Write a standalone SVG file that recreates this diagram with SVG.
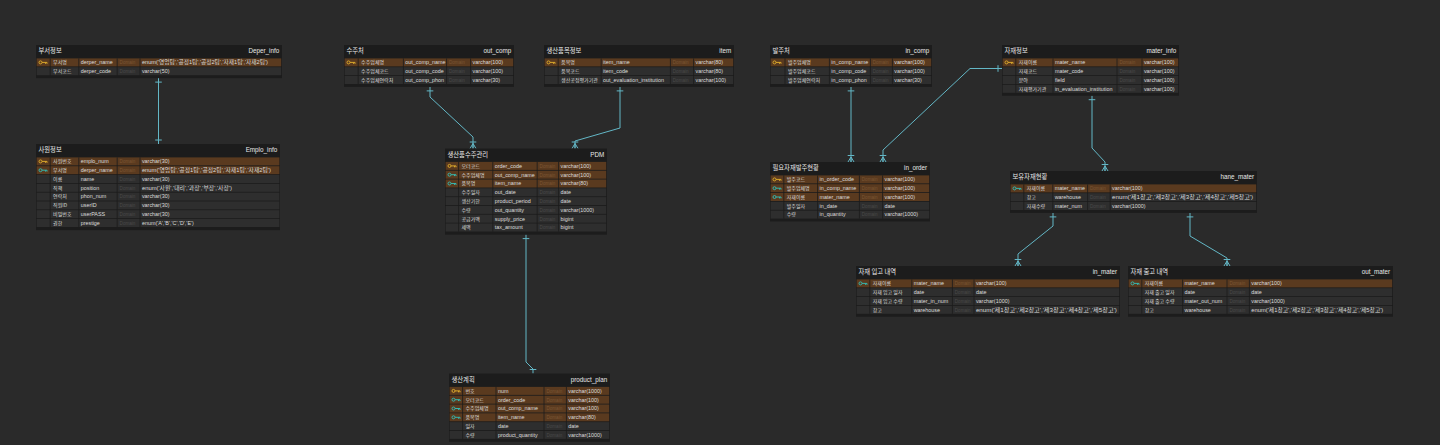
<svg xmlns="http://www.w3.org/2000/svg" xmlns:xlink="http://www.w3.org/1999/xlink" width="1440" height="445" viewBox="0 0 1440 445">
<style>
.tb{fill:#1c1c1c}
.c{fill:#2e2e2e}
.p{fill:#5a3a1f}
.sp{stroke:#1c1c1c;stroke-width:0.8;fill:none}
.ht{font-family:"Noto Sans CJK KR",sans-serif;font-size:6.3px;fill:#e8e8e8}
.he{font-family:"Liberation Sans",sans-serif;font-size:6.3px;fill:#e8e8e8;text-anchor:end}
.k{font-family:"Noto Sans CJK KR",sans-serif;font-size:5px;fill:#dddddd}
.e{font-family:"Liberation Sans",sans-serif;font-size:5.4px;fill:#dddddd}
.t{font-family:"Liberation Sans","Noto Sans CJK KR",sans-serif;font-size:5.4px;fill:#dddddd}
.d{font-family:"Liberation Sans",sans-serif;font-size:4.6px;fill:#4a4a4a}
.dp{font-family:"Liberation Sans",sans-serif;font-size:4.6px;fill:#7a5634}
.ky{fill:none;stroke:#d9a72b;stroke-width:1}
.kf{fill:none;stroke:#36b5ad;stroke-width:1}
.cn path{fill:none;stroke:#63b7c6;stroke-width:1}
</style>
<defs>
<g id="key"><circle cx="0" cy="0" r="1.5"/><path d="M1.5,0H6.5M5,0V1.4M6.5,0V1.4"/></g>
<marker id="one" markerUnits="userSpaceOnUse" markerWidth="12" markerHeight="12" viewBox="-10 -6 12 12" refX="0" refY="0" orient="auto-start-reverse"><path d="M-4,-3.3V3.3" stroke="#63b7c6" stroke-width="1" fill="none"/></marker>
<marker id="many" markerUnits="userSpaceOnUse" markerWidth="12" markerHeight="12" viewBox="-10 -6 12 12" refX="0" refY="0" orient="auto"><path d="M-5,0L0,-3M-5,0L0,0M-5,0L0,3M-6.5,-3.3V3.3" stroke="#63b7c6" stroke-width="1" fill="none"/></marker>
</defs>
<rect width="1440" height="445" fill="#2a2a2a"/>

<g class="cn" id="connectors">
<path d="M158.5,78.1V144" marker-start="url(#one)" marker-end="url(#one)"/>
<path d="M430,86.9V97L473,137V148.5" marker-start="url(#one)" marker-end="url(#many)"/>
<path d="M620,86.9V128L575,141V148.5" marker-start="url(#one)" marker-end="url(#many)"/>
<path d="M526,234.6V362L533,369V373.5" marker-start="url(#one)" marker-end="url(#one)"/>
<path d="M851,86.9V162" marker-start="url(#one)" marker-end="url(#many)"/>
<path d="M1002,68.5H970L883,150V162" marker-start="url(#one)" marker-end="url(#many)"/>
<path d="M1092,95.7V148L1105,162V171" marker-start="url(#one)" marker-end="url(#many)"/>
<path d="M1053,212.9V226L1018,254V266" marker-start="url(#one)" marker-end="url(#many)"/>
<path d="M1190,212.9V236L1227,258V266" marker-start="url(#one)" marker-end="url(#many)"/>
</g>

<g id="deper_info" transform="translate(36,45)">
<rect class="tb" width="246" height="33.1"/>
<text class="ht" x="2.5" y="8">부서정보</text>
<text class="he" x="243.2" y="8">Deper_info</text>
<rect class="p" x="0.6" y="13.4" width="244.6" height="8"/>
<rect class="c" x="0.6" y="22.2" width="244.6" height="8"/>
<path class="sp" d="M14.2,13.4v16.8M42.8,13.4v16.8M81.2,13.4v16.8M104,13.4v16.8"/>
<use xlink:href="#key" x="4.5" y="17.4" class="ky"/>
<text class="k" x="17.1" y="19.2">부서명</text><text class="e" x="44.7" y="19.2">derper_name</text><text class="dp" x="83.6" y="19.2">Domain</text><text class="t" x="105.9" y="19.2" textLength="126" lengthAdjust="spacingAndGlyphs">enum('영업팀','공정1팀','공정2팀','자재1팀','자재2팀')</text>
<text class="k" x="17.1" y="28">부서코드</text><text class="e" x="44.7" y="28">derper_code</text><text class="d" x="83.6" y="28">Domain</text><text class="t" x="105.9" y="28">varchar(50)</text>
</g>

<g id="emplo_info" transform="translate(36,144)">
<rect class="tb" width="244" height="86.1"/>
<text class="ht" x="2.5" y="8">사원정보</text>
<text class="he" x="241.2" y="8">Emplo_info</text>
<rect class="p" x="0.6" y="13.4" width="242.8" height="8"/>
<rect class="p" x="0.6" y="22.2" width="242.8" height="8"/>
<rect class="c" x="0.6" y="31" width="242.8" height="8"/>
<rect class="c" x="0.6" y="39.8" width="242.8" height="8"/>
<rect class="c" x="0.6" y="48.6" width="242.8" height="8"/>
<rect class="c" x="0.6" y="57.4" width="242.8" height="8"/>
<rect class="c" x="0.6" y="66.2" width="242.8" height="8"/>
<rect class="c" x="0.6" y="75" width="242.8" height="8"/>
<path class="sp" d="M14.2,13.4v69.6M42.8,13.4v69.6M81.2,13.4v69.6M104,13.4v69.6"/>
<use xlink:href="#key" x="4.5" y="17.4" class="ky"/>
<use xlink:href="#key" x="4.5" y="26.2" class="kf"/>
<text class="k" x="17.1" y="19.2">사원번호</text><text class="e" x="44.7" y="19.2">emplo_num</text><text class="dp" x="83.6" y="19.2">Domain</text><text class="t" x="105.9" y="19.2">varchar(30)</text>
<text class="k" x="17.1" y="28">부서명</text><text class="e" x="44.7" y="28">derper_name</text><text class="dp" x="83.6" y="28">Domain</text><text class="t" x="105.9" y="28" textLength="129" lengthAdjust="spacingAndGlyphs">enum('영업팀','공정1팀','공정2팀','자재1팀','자재2팀')</text>
<text class="k" x="17.1" y="36.8">이름</text><text class="e" x="44.7" y="36.8">name</text><text class="d" x="83.6" y="36.8">Domain</text><text class="t" x="105.9" y="36.8">varchar(30)</text>
<text class="k" x="17.1" y="45.6">직책</text><text class="e" x="44.7" y="45.6">position</text><text class="d" x="83.6" y="45.6">Domain</text><text class="t" x="105.9" y="45.6" textLength="90" lengthAdjust="spacingAndGlyphs">enum('사원','대리','과장','부장','사장')</text>
<text class="k" x="17.1" y="54.4">연락처</text><text class="e" x="44.7" y="54.4">phon_num</text><text class="d" x="83.6" y="54.4">Domain</text><text class="t" x="105.9" y="54.4">varchar(30)</text>
<text class="k" x="17.1" y="63.2">직원ID</text><text class="e" x="44.7" y="63.2">userID</text><text class="d" x="83.6" y="63.2">Domain</text><text class="t" x="105.9" y="63.2">varchar(30)</text>
<text class="k" x="17.1" y="72">비밀번호</text><text class="e" x="44.7" y="72">userPASS</text><text class="d" x="83.6" y="72">Domain</text><text class="t" x="105.9" y="72">varchar(30)</text>
<text class="k" x="17.1" y="80.8">권한</text><text class="e" x="44.7" y="80.8">prestige</text><text class="d" x="83.6" y="80.8">Domain</text><text class="t" x="105.9" y="80.8">enum('A','B','C','D','E')</text>
</g>

<g id="out_comp" transform="translate(344,45)">
<rect class="tb" width="170" height="41.9"/>
<text class="ht" x="2.5" y="8">수주처</text>
<text class="he" x="167.2" y="8">out_comp</text>
<rect class="p" x="0.6" y="13.4" width="168.6" height="8"/>
<rect class="c" x="0.6" y="22.2" width="168.6" height="8"/>
<rect class="c" x="0.6" y="31" width="168.6" height="8"/>
<path class="sp" d="M14.2,13.4v25.6M59.4,13.4v25.6M102.6,13.4v25.6M126.6,13.4v25.6"/>
<use xlink:href="#key" x="4.5" y="17.4" class="ky"/>
<text class="k" x="17.1" y="19.2">수주업체명</text><text class="e" x="61.3" y="19.2">out_comp_name</text><text class="dp" x="105" y="19.2">Domain</text><text class="t" x="128.5" y="19.2">varchar(100)</text>
<text class="k" x="17.1" y="28">수주업체코드</text><text class="e" x="61.3" y="28">out_comp_code</text><text class="d" x="105" y="28">Domain</text><text class="t" x="128.5" y="28">varchar(100)</text>
<text class="k" x="17.1" y="36.8">수주업체연락처</text><text class="e" x="61.3" y="36.8">out_comp_phon</text><text class="d" x="105" y="36.8">Domain</text><text class="t" x="128.5" y="36.8">varchar(30)</text>
</g>

<g id="item" transform="translate(544,45)">
<rect class="tb" width="190" height="41.9"/>
<text class="ht" x="2.5" y="8">생산품목정보</text>
<text class="he" x="187.2" y="8">item</text>
<rect class="p" x="0.6" y="13.4" width="188.6" height="8"/>
<rect class="c" x="0.6" y="22.2" width="188.6" height="8"/>
<rect class="c" x="0.6" y="31" width="188.6" height="8"/>
<path class="sp" d="M14.2,13.4v25.6M57.2,13.4v25.6M126.4,13.4v25.6M149.6,13.4v25.6"/>
<use xlink:href="#key" x="4.5" y="17.4" class="ky"/>
<text class="k" x="17.1" y="19.2">품목명</text><text class="e" x="59.1" y="19.2">item_name</text><text class="dp" x="128.8" y="19.2">Domain</text><text class="t" x="151.5" y="19.2">varchar(80)</text>
<text class="k" x="17.1" y="28">품목코드</text><text class="e" x="59.1" y="28">item_code</text><text class="d" x="128.8" y="28">Domain</text><text class="t" x="151.5" y="28">varchar(80)</text>
<text class="k" x="17.1" y="36.8">생산공정평가기관</text><text class="e" x="59.1" y="36.8">out_evaluation_institution</text><text class="d" x="128.8" y="36.8">Domain</text><text class="t" x="151.5" y="36.8">varchar(100)</text>
</g>

<g id="pdm" transform="translate(445,148.5)">
<rect class="tb" width="162" height="86.1"/>
<text class="ht" x="2.5" y="8">생산품수주관리</text>
<text class="he" x="159.2" y="8">PDM</text>
<rect class="p" x="0.6" y="13.4" width="160.6" height="8"/>
<rect class="p" x="0.6" y="22.2" width="160.6" height="8"/>
<rect class="p" x="0.6" y="31" width="160.6" height="8"/>
<rect class="c" x="0.6" y="39.8" width="160.6" height="8"/>
<rect class="c" x="0.6" y="48.6" width="160.6" height="8"/>
<rect class="c" x="0.6" y="57.4" width="160.6" height="8"/>
<rect class="c" x="0.6" y="66.2" width="160.6" height="8"/>
<rect class="c" x="0.6" y="75" width="160.6" height="8"/>
<path class="sp" d="M13.6,13.4v69.6M47.8,13.4v69.6M92.2,13.4v69.6M113.6,13.4v69.6"/>
<use xlink:href="#key" x="4.5" y="17.4" class="ky"/>
<use xlink:href="#key" x="4.5" y="26.2" class="kf"/>
<use xlink:href="#key" x="4.5" y="35" class="kf"/>
<text class="k" x="16.5" y="19.2">오더코드</text><text class="e" x="49.7" y="19.2">order_code</text><text class="dp" x="94.6" y="19.2">Domain</text><text class="t" x="115.5" y="19.2">varchar(100)</text>
<text class="k" x="16.5" y="28">수주업체명</text><text class="e" x="49.7" y="28">out_comp_name</text><text class="dp" x="94.6" y="28">Domain</text><text class="t" x="115.5" y="28">varchar(100)</text>
<text class="k" x="16.5" y="36.8">품목명</text><text class="e" x="49.7" y="36.8">item_name</text><text class="dp" x="94.6" y="36.8">Domain</text><text class="t" x="115.5" y="36.8">varchar(80)</text>
<text class="k" x="16.5" y="45.6">수주일자</text><text class="e" x="49.7" y="45.6">out_date</text><text class="d" x="94.6" y="45.6">Domain</text><text class="t" x="115.5" y="45.6">date</text>
<text class="k" x="16.5" y="54.4">생산기한</text><text class="e" x="49.7" y="54.4">product_period</text><text class="d" x="94.6" y="54.4">Domain</text><text class="t" x="115.5" y="54.4">date</text>
<text class="k" x="16.5" y="63.2">수량</text><text class="e" x="49.7" y="63.2">out_quantity</text><text class="d" x="94.6" y="63.2">Domain</text><text class="t" x="115.5" y="63.2">varchar(1000)</text>
<text class="k" x="16.5" y="72">공급가액</text><text class="e" x="49.7" y="72">supply_price</text><text class="d" x="94.6" y="72">Domain</text><text class="t" x="115.5" y="72">bigint</text>
<text class="k" x="16.5" y="80.8">세액</text><text class="e" x="49.7" y="80.8">tax_amount</text><text class="d" x="94.6" y="80.8">Domain</text><text class="t" x="115.5" y="80.8">bigint</text>
</g>

<g id="product_plan" transform="translate(449,373.5)">
<rect class="tb" width="161" height="68.3"/>
<text class="ht" x="2.5" y="8">생산계획</text>
<text class="he" x="158.2" y="8">product_plan</text>
<rect class="p" x="0.6" y="13.4" width="159.6" height="8"/>
<rect class="p" x="0.6" y="22.2" width="159.6" height="8"/>
<rect class="p" x="0.6" y="31" width="159.6" height="8"/>
<rect class="p" x="0.6" y="39.8" width="159.6" height="8"/>
<rect class="c" x="0.6" y="48.6" width="159.6" height="8"/>
<rect class="c" x="0.6" y="57.4" width="159.6" height="8"/>
<path class="sp" d="M13.6,13.4v52M47,13.4v52M95,13.4v52M117.4,13.4v52"/>
<use xlink:href="#key" x="4.5" y="17.4" class="ky"/>
<use xlink:href="#key" x="4.5" y="26.2" class="kf"/>
<use xlink:href="#key" x="4.5" y="35" class="kf"/>
<use xlink:href="#key" x="4.5" y="43.8" class="kf"/>
<text class="k" x="16.5" y="19.2">번호</text><text class="e" x="48.9" y="19.2">num</text><text class="dp" x="97.4" y="19.2">Domain</text><text class="t" x="119.3" y="19.2">varchar(1000)</text>
<text class="k" x="16.5" y="28">오더코드</text><text class="e" x="48.9" y="28">order_code</text><text class="dp" x="97.4" y="28">Domain</text><text class="t" x="119.3" y="28">varchar(100)</text>
<text class="k" x="16.5" y="36.8">수주업체명</text><text class="e" x="48.9" y="36.8">out_comp_name</text><text class="dp" x="97.4" y="36.8">Domain</text><text class="t" x="119.3" y="36.8">varchar(100)</text>
<text class="k" x="16.5" y="45.6">품목명</text><text class="e" x="48.9" y="45.6">item_name</text><text class="dp" x="97.4" y="45.6">Domain</text><text class="t" x="119.3" y="45.6">varchar(80)</text>
<text class="k" x="16.5" y="54.4">일자</text><text class="e" x="48.9" y="54.4">date</text><text class="d" x="97.4" y="54.4">Domain</text><text class="t" x="119.3" y="54.4">date</text>
<text class="k" x="16.5" y="63.2">수량</text><text class="e" x="48.9" y="63.2">product_quantity</text><text class="d" x="97.4" y="63.2">Domain</text><text class="t" x="119.3" y="63.2">varchar(1000)</text>
</g>

<g id="in_comp" transform="translate(770,45)">
<rect class="tb" width="162" height="41.9"/>
<text class="ht" x="2.5" y="8">발주처</text>
<text class="he" x="159.2" y="8">in_comp</text>
<rect class="p" x="0.6" y="13.4" width="160.6" height="8"/>
<rect class="c" x="0.6" y="22.2" width="160.6" height="8"/>
<rect class="c" x="0.6" y="31" width="160.6" height="8"/>
<path class="sp" d="M15,13.4v25.6M59.4,13.4v25.6M100.4,13.4v25.6M122.4,13.4v25.6"/>
<use xlink:href="#key" x="4.5" y="17.4" class="ky"/>
<text class="k" x="17.9" y="19.2">발주업체명</text><text class="e" x="61.3" y="19.2">in_comp_name</text><text class="dp" x="102.8" y="19.2">Domain</text><text class="t" x="124.3" y="19.2">varchar(100)</text>
<text class="k" x="17.9" y="28">발주업체코드</text><text class="e" x="61.3" y="28">in_comp_code</text><text class="d" x="102.8" y="28">Domain</text><text class="t" x="124.3" y="28">varchar(100)</text>
<text class="k" x="17.9" y="36.8">발주업체연락처</text><text class="e" x="61.3" y="36.8">in_comp_phon</text><text class="d" x="102.8" y="36.8">Domain</text><text class="t" x="124.3" y="36.8">varchar(30)</text>
</g>

<g id="mater_info" transform="translate(1002,45)">
<rect class="tb" width="177" height="50.7"/>
<text class="ht" x="2.5" y="8">자재정보</text>
<text class="he" x="174.2" y="8">mater_info</text>
<rect class="p" x="0.6" y="13.4" width="175.6" height="8"/>
<rect class="c" x="0.6" y="22.2" width="175.6" height="8"/>
<rect class="c" x="0.6" y="31" width="175.6" height="8"/>
<rect class="c" x="0.6" y="39.8" width="175.6" height="8"/>
<path class="sp" d="M13.8,13.4v34.4M51,13.4v34.4M115,13.4v34.4M140,13.4v34.4"/>
<use xlink:href="#key" x="4.5" y="17.4" class="ky"/>
<text class="k" x="16.7" y="19.2">자재이름</text><text class="e" x="52.9" y="19.2">mater_name</text><text class="dp" x="117.4" y="19.2">Domain</text><text class="t" x="141.9" y="19.2">varchar(100)</text>
<text class="k" x="16.7" y="28">자재코드</text><text class="e" x="52.9" y="28">mater_code</text><text class="d" x="117.4" y="28">Domain</text><text class="t" x="141.9" y="28">varchar(100)</text>
<text class="k" x="16.7" y="36.8">분야</text><text class="e" x="52.9" y="36.8">field</text><text class="d" x="117.4" y="36.8">Domain</text><text class="t" x="141.9" y="36.8">varchar(100)</text>
<text class="k" x="16.7" y="45.6">자재평가기관</text><text class="e" x="52.9" y="45.6">in_evaluation_institution</text><text class="d" x="117.4" y="45.6">Domain</text><text class="t" x="141.9" y="45.6">varchar(100)</text>
</g>

<g id="in_order" transform="translate(770,162)">
<rect class="tb" width="160" height="59.5"/>
<text class="ht" x="2.5" y="8">필요자재발주현황</text>
<text class="he" x="157.2" y="8">in_order</text>
<rect class="p" x="0.6" y="13.4" width="158.6" height="8"/>
<rect class="p" x="0.6" y="22.2" width="158.6" height="8"/>
<rect class="p" x="0.6" y="31" width="158.6" height="8"/>
<rect class="c" x="0.6" y="39.8" width="158.6" height="8"/>
<rect class="c" x="0.6" y="48.6" width="158.6" height="8"/>
<path class="sp" d="M13.8,13.4v43.2M47.6,13.4v43.2M89.4,13.4v43.2M112.6,13.4v43.2"/>
<use xlink:href="#key" x="4.5" y="17.4" class="ky"/>
<use xlink:href="#key" x="4.5" y="26.2" class="kf"/>
<use xlink:href="#key" x="4.5" y="35" class="kf"/>
<text class="k" x="16.7" y="19.2">발주코드</text><text class="e" x="49.5" y="19.2">in_order_code</text><text class="dp" x="91.8" y="19.2">Domain</text><text class="t" x="114.5" y="19.2">varchar(100)</text>
<text class="k" x="16.7" y="28">발주업체명</text><text class="e" x="49.5" y="28">in_comp_name</text><text class="dp" x="91.8" y="28">Domain</text><text class="t" x="114.5" y="28">varchar(100)</text>
<text class="k" x="16.7" y="36.8">자재이름</text><text class="e" x="49.5" y="36.8">mater_name</text><text class="dp" x="91.8" y="36.8">Domain</text><text class="t" x="114.5" y="36.8">varchar(100)</text>
<text class="k" x="16.7" y="45.6">발주일자</text><text class="e" x="49.5" y="45.6">in_date</text><text class="d" x="91.8" y="45.6">Domain</text><text class="t" x="114.5" y="45.6">date</text>
<text class="k" x="16.7" y="54.4">수량</text><text class="e" x="49.5" y="54.4">in_quantity</text><text class="d" x="91.8" y="54.4">Domain</text><text class="t" x="114.5" y="54.4">varchar(1000)</text>
</g>

<g id="hane_mater" transform="translate(1010,171)">
<rect class="tb" width="247" height="41.9"/>
<text class="ht" x="2.5" y="8">보유자재현황</text>
<text class="he" x="244.2" y="8">hane_mater</text>
<rect class="p" x="0.6" y="13.4" width="245.6" height="8"/>
<rect class="c" x="0.6" y="22.2" width="245.6" height="8"/>
<rect class="c" x="0.6" y="31" width="245.6" height="8"/>
<path class="sp" d="M13.8,13.4v25.6M42.8,13.4v25.6M77.6,13.4v25.6M100.2,13.4v25.6"/>
<use xlink:href="#key" x="4.5" y="17.4" class="kf"/>
<text class="k" x="16.7" y="19.2">자재이름</text><text class="e" x="44.7" y="19.2">mater_name</text><text class="dp" x="80" y="19.2">Domain</text><text class="t" x="102.1" y="19.2">varchar(100)</text>
<text class="k" x="16.7" y="28">창고</text><text class="e" x="44.7" y="28">warehouse</text><text class="d" x="80" y="28">Domain</text><text class="t" x="102.1" y="28" textLength="141" lengthAdjust="spacingAndGlyphs">enum('제1창고','제2창고','제3창고','제4창고','제5창고')</text>
<text class="k" x="16.7" y="36.8">자재수량</text><text class="e" x="44.7" y="36.8">mater_num</text><text class="d" x="80" y="36.8">Domain</text><text class="t" x="102.1" y="36.8">varchar(1000)</text>
</g>

<g id="in_mater" transform="translate(856,266)">
<rect class="tb" width="264" height="50.7"/>
<text class="ht" x="2.5" y="8">자재 입고 내역</text>
<text class="he" x="261.2" y="8">in_mater</text>
<rect class="p" x="0.6" y="13.4" width="262.6" height="8"/>
<rect class="c" x="0.6" y="22.2" width="262.6" height="8"/>
<rect class="c" x="0.6" y="31" width="262.6" height="8"/>
<rect class="c" x="0.6" y="39.8" width="262.6" height="8"/>
<path class="sp" d="M13.8,13.4v34.4M55.8,13.4v34.4M96.4,13.4v34.4M118,13.4v34.4"/>
<use xlink:href="#key" x="4.5" y="17.4" class="kf"/>
<text class="k" x="16.7" y="19.2">자재이름</text><text class="e" x="57.7" y="19.2">mater_name</text><text class="dp" x="98.8" y="19.2">Domain</text><text class="t" x="119.9" y="19.2">varchar(100)</text>
<text class="k" x="16.7" y="28">자재 입고 일자</text><text class="e" x="57.7" y="28">date</text><text class="d" x="98.8" y="28">Domain</text><text class="t" x="119.9" y="28">date</text>
<text class="k" x="16.7" y="36.8">자재 입고 수량</text><text class="e" x="57.7" y="36.8">mater_in_num</text><text class="d" x="98.8" y="36.8">Domain</text><text class="t" x="119.9" y="36.8">varchar(1000)</text>
<text class="k" x="16.7" y="45.6">창고</text><text class="e" x="57.7" y="45.6">warehouse</text><text class="d" x="98.8" y="45.6">Domain</text><text class="t" x="119.9" y="45.6" textLength="141" lengthAdjust="spacingAndGlyphs">enum('제1창고','제2창고','제3창고','제4창고','제5창고')</text>
</g>

<g id="out_mater" transform="translate(1128,266)">
<rect class="tb" width="265" height="50.7"/>
<text class="ht" x="2.5" y="8">자재 출고 내역</text>
<text class="he" x="262.2" y="8">out_mater</text>
<rect class="p" x="0.6" y="13.4" width="263.6" height="8"/>
<rect class="c" x="0.6" y="22.2" width="263.6" height="8"/>
<rect class="c" x="0.6" y="31" width="263.6" height="8"/>
<rect class="c" x="0.6" y="39.8" width="263.6" height="8"/>
<path class="sp" d="M13.8,13.4v34.4M54.6,13.4v34.4M99,13.4v34.4M121.4,13.4v34.4"/>
<use xlink:href="#key" x="4.5" y="17.4" class="kf"/>
<text class="k" x="16.7" y="19.2">자재이름</text><text class="e" x="56.5" y="19.2">mater_name</text><text class="dp" x="101.4" y="19.2">Domain</text><text class="t" x="123.3" y="19.2">varchar(100)</text>
<text class="k" x="16.7" y="28">자재 출고 일자</text><text class="e" x="56.5" y="28">date</text><text class="d" x="101.4" y="28">Domain</text><text class="t" x="123.3" y="28">date</text>
<text class="k" x="16.7" y="36.8">자재 출고 수량</text><text class="e" x="56.5" y="36.8">mater_out_num</text><text class="d" x="101.4" y="36.8">Domain</text><text class="t" x="123.3" y="36.8">varchar(1000)</text>
<text class="k" x="16.7" y="45.6">창고</text><text class="e" x="56.5" y="45.6">warehouse</text><text class="d" x="101.4" y="45.6">Domain</text><text class="t" x="123.3" y="45.6" textLength="132" lengthAdjust="spacingAndGlyphs">enum('제1창고','제2창고','제3창고','제4창고','제5창고')</text>
</g>
</svg>
